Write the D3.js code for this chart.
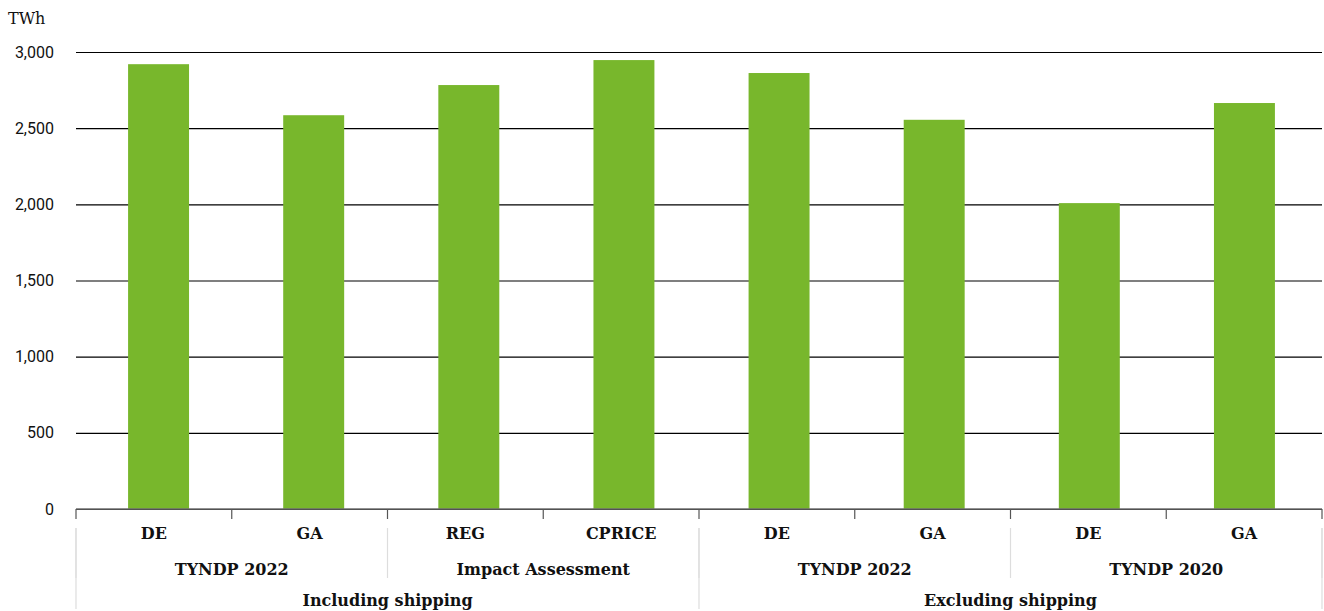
<!DOCTYPE html>
<html>
<head>
<meta charset="utf-8">
<script src="https://cdn.jsdelivr.net/npm/d3@7"></script>
<style>
  body { margin: 0; background: #fff; }
  svg text { fill: #111; }
</style>
</head>
<body>
<div id="chart"></div>
<script>
// data
var scenarios = ["DE", "GA", "REG", "CPRICE", "DE", "GA", "DE", "GA"];
var sources = ["TYNDP 2022", "TYNDP 2022", "Impact Assessment", "Impact Assessment",
               "TYNDP 2022", "TYNDP 2022", "TYNDP 2020", "TYNDP 2020"];
var shipping = ["Including shipping", "Including shipping", "Including shipping", "Including shipping",
                "Excluding shipping", "Excluding shipping", "Excluding shipping", "Excluding shipping"];
var values = [2920, 2585, 2783, 2947, 2862, 2555, 2008, 2665];
var yTicks = [0, 500, 1000, 1500, 2000, 2500, 3000];

var W = 1324, H = 611;
var plotLeft = 76, plotRight = 1322, plotTop = 52, plotBottom = 509;
var slab = "'DejaVu Serif', 'Liberation Serif', serif";

var svg = d3.select("#chart").append("svg")
            .attr("width", W)
            .attr("height", H);

var idx = d3.range(values.length);
// bars sit slightly right of the category slots in the original
var x = d3.scaleBand().domain(idx).range([plotLeft + 5, plotRight]).paddingInner(0.607).paddingOuter(0.3035);
var xb = d3.scaleBand().domain(idx).range([plotLeft, plotRight]);
var y = d3.scaleLinear().domain([0, 3000]).range([plotBottom, plotTop]);

// gridlines + y labels
var yAxis = svg.append("g")
   .attr("transform", "translate(" + plotLeft + ",0)")
   .call(d3.axisLeft(y).tickValues(yTicks).tickSize(-(plotRight - plotLeft)).tickFormat(d3.format(",")));
yAxis.select(".domain").remove();
yAxis.selectAll(".tick line").attr("stroke", "#000").attr("stroke-width", 1.2);
yAxis.selectAll(".tick text")
   .attr("x", -22)
   .attr("font-family", "Roboto, sans-serif")
   .attr("font-size", 16)
   .attr("fill", "#222");

svg.append("text")
   .attr("x", 8)
   .attr("y", 24)
   .attr("font-family", slab)
   .attr("font-size", 16)
   .text("TWh");

// bars
svg.selectAll("rect.bar")
   .data(values)
   .enter().append("rect")
   .attr("class", "bar")
   .attr("x", function(d, i) { return x(i); })
   .attr("y", function(d) { return y(d); })
   .attr("width", x.bandwidth())
   .attr("height", function(d) { return y(0) - y(d); })
   .attr("fill", "#78b72c");

// category axis
svg.append("line")
   .attr("x1", plotLeft).attr("x2", plotRight)
   .attr("y1", plotBottom).attr("y2", plotBottom)
   .attr("stroke", "#6e6e6e").attr("stroke-width", 1.5);

var bounds = idx.map(function(i) { return xb(i); }).concat([plotRight]);
svg.selectAll("line.tk")
   .data(bounds)
   .enter().append("line")
   .attr("class", "tk")
   .attr("x1", function(d) { return d; }).attr("x2", function(d) { return d; })
   .attr("y1", plotBottom).attr("y2", plotBottom + 10)
   .attr("stroke", "#555").attr("stroke-width", 1.2);

// groups from consecutive runs
function runs(arr) {
  var out = [];
  arr.forEach(function(v, i) {
    if (i > 0 && arr[i - 1] === v && (arr === shipping || shipping[i - 1] === shipping[i])) {
      out[out.length - 1].end = i;
    } else {
      out.push({ label: v, start: i, end: i });
    }
  });
  return out;
}
var srcRuns = runs(sources);
var shipRuns = runs(shipping);

// separators
var sepSrc = srcRuns.map(function(r) { return xb(r.start); }).concat([plotRight]);
svg.selectAll("line.sep2")
   .data(sepSrc)
   .enter().append("line")
   .attr("class", "sep2")
   .attr("x1", function(d) { return d; }).attr("x2", function(d) { return d; })
   .attr("y1", 528).attr("y2", 578)
   .attr("stroke", "#ddd").attr("stroke-width", 1.2);
var sepShip = shipRuns.map(function(r) { return xb(r.start); }).concat([plotRight]);
svg.selectAll("line.sep3")
   .data(sepShip)
   .enter().append("line")
   .attr("class", "sep3")
   .attr("x1", function(d) { return d; }).attr("x2", function(d) { return d; })
   .attr("y1", 528).attr("y2", 609)
   .attr("stroke", "#ddd").attr("stroke-width", 1.2);

function label(txt, cx, cy) {
  svg.append("text")
     .attr("x", cx)
     .attr("y", cy)
     .attr("text-anchor", "middle")
     .attr("font-family", slab)
     .attr("font-weight", "bold")
     .attr("font-size", 16)
     .text(txt);
}
scenarios.forEach(function(s, i) { label(s, xb(i) + xb.bandwidth() / 2, 539); });
srcRuns.forEach(function(r) { label(r.label, (xb(r.start) + xb(r.end) + xb.bandwidth()) / 2, 575); });
shipRuns.forEach(function(r) { label(r.label, (xb(r.start) + xb(r.end) + xb.bandwidth()) / 2, 606); });
</script>
</body>
</html>
